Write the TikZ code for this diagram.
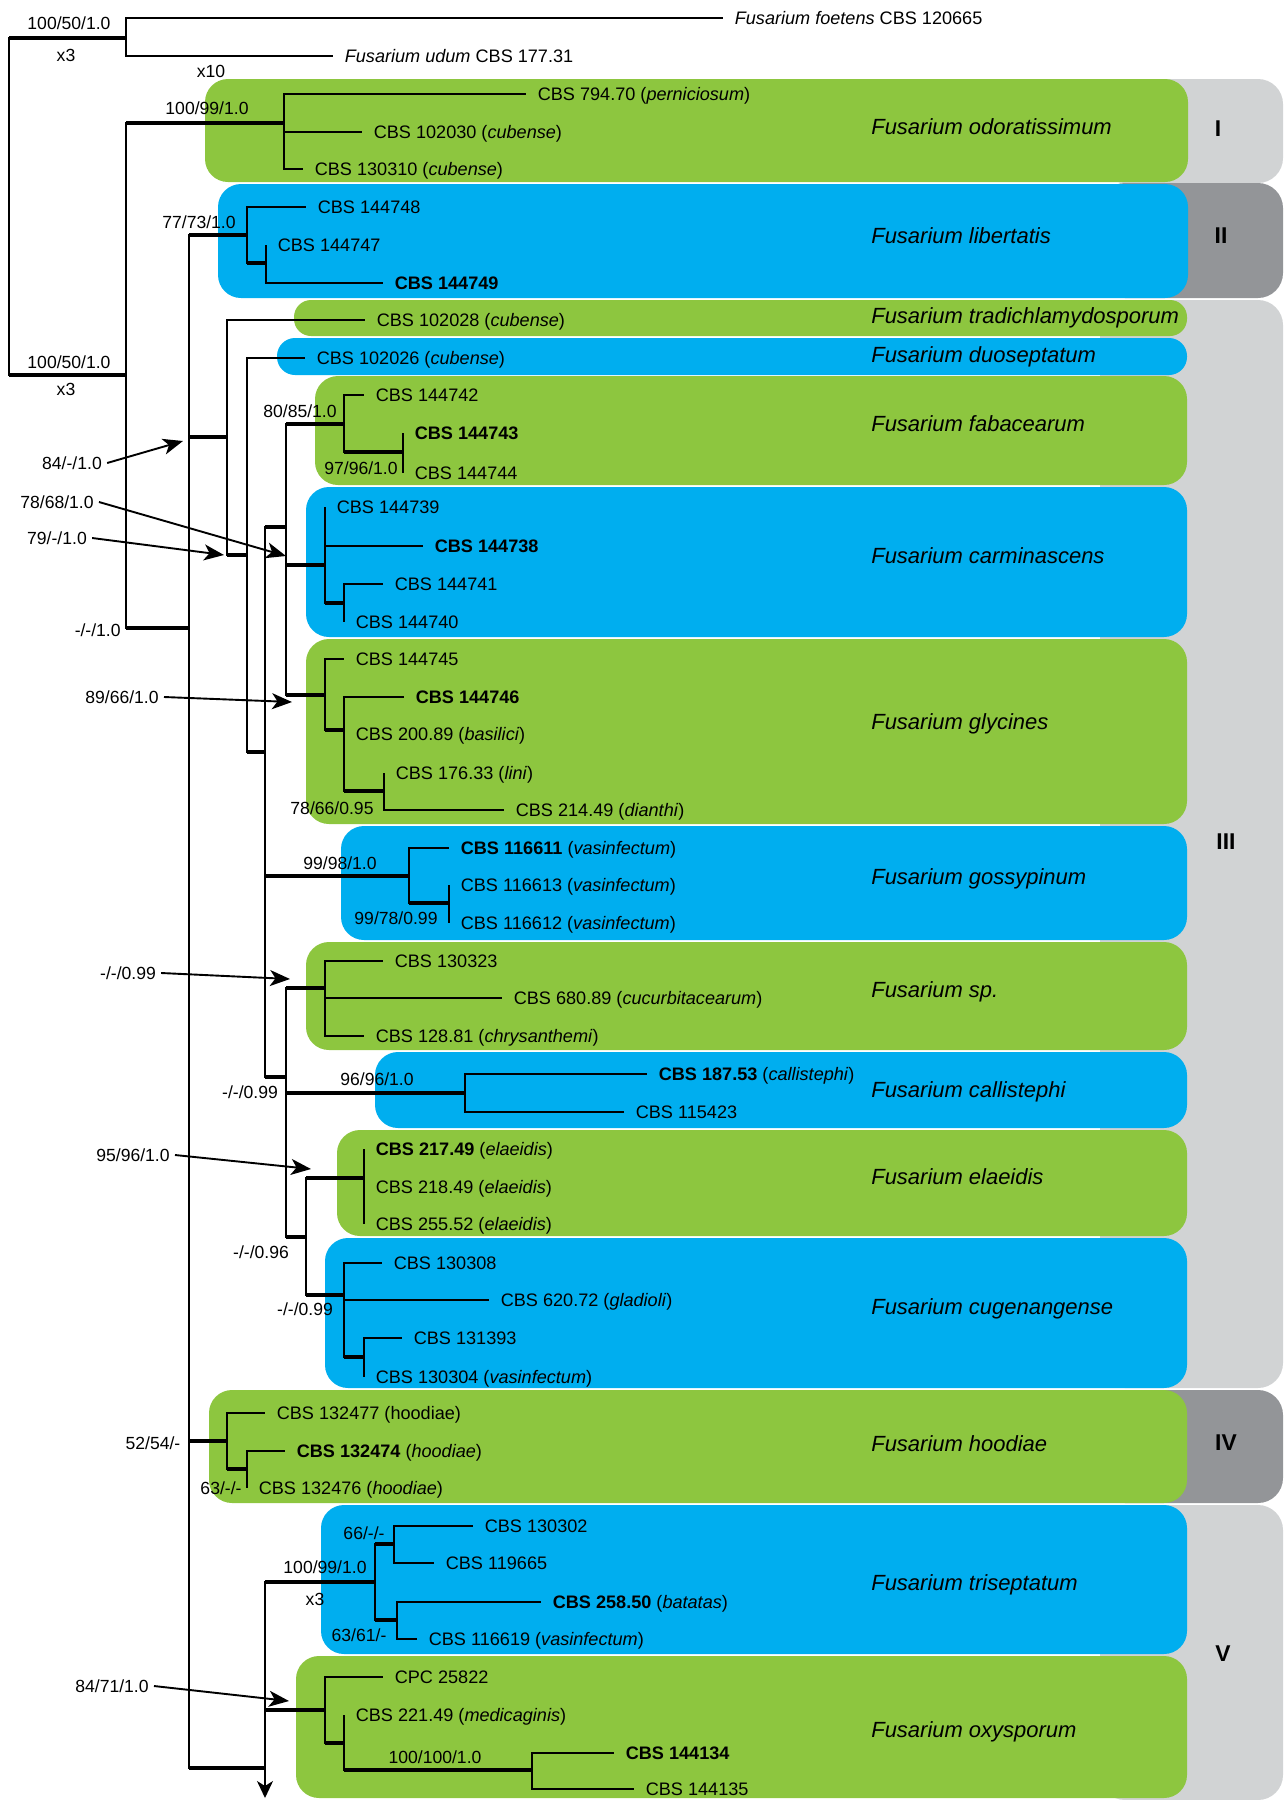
\documentclass[tikz,border=0pt]{standalone}
\usepackage{fontspec}
\setmainfont{Liberation Sans}
\usetikzlibrary{arrows.meta}
\definecolor{fGreen}{HTML}{8DC63F}
\definecolor{fBlue}{HTML}{00AEEF}
\definecolor{fGrey}{HTML}{D1D3D4}
\definecolor{fDark}{HTML}{939598}

\begin{document}
\begin{tikzpicture}[x=0.2mm, y=-0.2mm,
  every node/.style={font=\fontsize{10.3}{12}\selectfont},
  br/.style={line width=0.35mm},
  thk/.style={line width=0.85mm},
  leaf/.style={anchor=west, inner xsep=2.3mm, inner ysep=0pt,
               text height=1.38ex, text depth=0pt},
  supp/.style={font=\fontsize{10}{12}\selectfont, inner sep=0pt,
               text height=1.38ex, text depth=0pt},
  spname/.style={anchor=west, inner sep=0pt, text height=1.38ex, text depth=0pt,
                 font=\fontsize{12.5}{14}\selectfont\itshape},
  grp/.style={font=\fontsize{13}{15}\selectfont\bfseries, text height=1.38ex, text depth=0pt},
  pnt/.style={line width=0.38mm, -{Stealth[length=4mm, width=3.2mm, inset=1.1mm]}},
]
  \useasboundingbox (0,0) rectangle (1285,1800);

  % Group bars
  \fill[fGrey, rounded corners=5mm] (1100,79) rectangle (1283,183);
  \fill[fDark, rounded corners=5mm] (1100,183) rectangle (1283,298);
  \fill[fGrey, rounded corners=5mm] (1100,300) rectangle (1283,1388);
  \fill[fDark, rounded corners=5mm] (1100,1390) rectangle (1283,1503);
  \fill[fGrey, rounded corners=5mm] (1100,1505) rectangle (1283,1800);

  % Species boxes
  \fill[fGreen, rounded corners=4.6mm] (205,79) rectangle (1188,182);
  \fill[fBlue, rounded corners=4.6mm] (218,184) rectangle (1188,298);
  \fill[fGreen, rounded corners=3.4mm] (294,300) rectangle (1187,336);
  \fill[fBlue, rounded corners=3.6mm] (277,338) rectangle (1187,375);
  \fill[fGreen, rounded corners=4.6mm] (315,376) rectangle (1187,485);
  \fill[fBlue, rounded corners=4.6mm] (306,487) rectangle (1187,637);
  \fill[fGreen, rounded corners=4.6mm] (306,639) rectangle (1187,824);
  \fill[fBlue, rounded corners=4.6mm] (341,826) rectangle (1187,940);
  \fill[fGreen, rounded corners=4.6mm] (306,942) rectangle (1187,1050);
  \fill[fBlue, rounded corners=4.6mm] (375,1052) rectangle (1187,1128);
  \fill[fGreen, rounded corners=4.6mm] (337,1130) rectangle (1187,1236);
  \fill[fBlue, rounded corners=4.6mm] (325,1238) rectangle (1187,1388);
  \fill[fGreen, rounded corners=4.6mm] (209,1390) rectangle (1187,1503);
  \fill[fBlue, rounded corners=4.6mm] (321,1505) rectangle (1187,1654);
  \fill[fGreen, rounded corners=4.6mm] (296,1656) rectangle (1187,1798);

  % Internal nodes
  \coordinate (R) at (9,206);
  \coordinate (O) at (126,38);
  \coordinate (N1) at (126,375);
  \coordinate (odo) at (284,123);
  \coordinate (N2) at (189,628);
  \coordinate (lib) at (247,235);
  \coordinate (lib2) at (266,263);
  \coordinate (A) at (227,437);
  \coordinate (B) at (247,555);
  \coordinate (C) at (265,752);
  \coordinate (D) at (286,527);
  \coordinate (fab) at (344,424);
  \coordinate (fab2) at (403,452);
  \coordinate (carm) at (325,565);
  \coordinate (carm2) at (344,603);
  \coordinate (gly) at (325,695);
  \coordinate (gly2) at (344,730);
  \coordinate (gly3) at (384,791);
  \coordinate (goss) at (409,876);
  \coordinate (goss2) at (449,903);
  \coordinate (E) at (286,1077);
  \coordinate (sp) at (325,988);
  \coordinate (call) at (465,1093);
  \coordinate (F) at (306,1237);
  \coordinate (ela) at (364,1178);
  \coordinate (cug) at (344,1295);
  \coordinate (cug2) at (364,1357);
  \coordinate (hood) at (227,1441);
  \coordinate (hood2) at (247,1469);
  \coordinate (V) at (265,1768);
  \coordinate (tri) at (375,1582);
  \coordinate (tri1) at (394,1544);
  \coordinate (tri2) at (397,1620);
  \coordinate (oxy) at (325,1710);
  \coordinate (oxy2) at (344,1743);
  \coordinate (oxy3) at (532,1770);
  \coordinate (cont) at (265,1798);

  % Leaves
  \node[leaf] (foetens) at (723,18) {\textit{Fusarium foetens} CBS 120665};
  \node[leaf] (udum) at (333,56) {\textit{Fusarium udum} CBS 177.31};
  \node[leaf] (a79470) at (526,94) {CBS 794.70 (\textit{perniciosum})};
  \node[leaf] (a102030) at (362,132) {CBS 102030 (\textit{cubense})};
  \node[leaf] (a130310) at (303,169) {CBS 130310 (\textit{cubense})};
  \node[leaf] (a144748) at (306,207) {CBS 144748};
  \node[leaf] (a144747) at (266,245) {CBS 144747};
  \node[leaf] (a144749) at (383,283) {\textbf{CBS 144749}};
  \node[leaf] (a102028) at (365,320) {CBS 102028 (\textit{cubense})};
  \node[leaf] (a102026) at (305,358) {CBS 102026 (\textit{cubense})};
  \node[leaf] (a144742) at (364,395) {CBS 144742};
  \node[leaf] (a144743) at (403,433) {\textbf{CBS 144743}};
  \node[leaf] (a144744) at (403,473) {CBS 144744};
  \node[leaf] (a144739) at (325,507) {CBS 144739};
  \node[leaf] (a144738) at (423,546) {\textbf{CBS 144738}};
  \node[leaf] (a144741) at (383,584) {CBS 144741};
  \node[leaf] (a144740) at (344,622) {CBS 144740};
  \node[leaf] (a144745) at (344,659) {CBS 144745};
  \node[leaf] (a144746) at (404,697) {\textbf{CBS 144746}};
  \node[leaf] (a20089) at (344,734) {CBS 200.89 (\textit{basilici})};
  \node[leaf] (a17633) at (384,773) {CBS 176.33 (\textit{lini})};
  \node[leaf] (a21449) at (504,810) {CBS 214.49 (\textit{dianthi})};
  \node[leaf] (a116611) at (449,848) {\textbf{CBS 116611} (\textit{vasinfectum})};
  \node[leaf] (a116613) at (449,885) {CBS 116613 (\textit{vasinfectum})};
  \node[leaf] (a116612) at (449,923) {CBS 116612 (\textit{vasinfectum})};
  \node[leaf] (a130323) at (383,961) {CBS 130323};
  \node[leaf] (a68089) at (502,998) {CBS 680.89 (\textit{cucurbitacearum})};
  \node[leaf] (a12881) at (364,1036) {CBS 128.81 (\textit{chrysanthemi})};
  \node[leaf] (a18753) at (647,1074) {\textbf{CBS 187.53} (\textit{callistephi})};
  \node[leaf] (a115423) at (624,1112) {CBS 115423};
  \node[leaf] (a21749) at (364,1149) {\textbf{CBS 217.49} (\textit{elaeidis})};
  \node[leaf] (a21849) at (364,1187) {CBS 218.49 (\textit{elaeidis})};
  \node[leaf] (a25552) at (364,1224) {CBS 255.52 (\textit{elaeidis})};
  \node[leaf] (a130308) at (382,1263) {CBS 130308};
  \node[leaf] (a62072) at (489,1300) {CBS 620.72 (\textit{gladioli})};
  \node[leaf] (a131393) at (402,1338) {CBS 131393};
  \node[leaf] (a130304) at (364,1377) {CBS 130304 (\textit{vasinfectum})};
  \node[leaf] (a132477) at (265,1413) {CBS 132477 (hoodiae)};
  \node[leaf] (a132474) at (285,1451) {\textbf{CBS 132474} (\textit{hoodiae})};
  \node[leaf] (a132476) at (247,1488) {CBS 132476 (\textit{hoodiae})};
  \node[leaf] (a130302) at (473,1526) {CBS 130302};
  \node[leaf] (a119665) at (434,1563) {CBS 119665};
  \node[leaf] (a25850) at (541,1602) {\textbf{CBS 258.50} (\textit{batatas})};
  \node[leaf] (a116619) at (417,1639) {CBS 116619 (\textit{vasinfectum})};
  \node[leaf] (c25822) at (383,1677) {CPC 25822};
  \node[leaf] (a22149) at (344,1715) {CBS 221.49 (\textit{medicaginis})};
  \node[leaf] (a144134) at (614,1753) {\textbf{CBS 144134}};
  \node[leaf] (a144135) at (634,1789) {CBS 144135};

  % Branches to clades
  \foreach \p/\c in {R/O, R/N1, N1/odo, N1/N2, N2/lib, lib/lib2, N2/A, A/B, B/C,
      C/D, D/fab, fab/fab2, D/carm, carm/carm2, D/gly, gly/gly2, gly2/gly3,
      C/goss, goss/goss2, C/E, E/sp, E/call, E/F, F/ela, F/cug, cug/cug2,
      N2/hood, hood/hood2, N2/V, V/tri, tri/tri1, tri/tri2, V/oxy, oxy/oxy2,
      oxy2/oxy3} {
    \draw[br] (\p) |- (\c);
    \draw[thk] (\p |- \c) -- (\c);
  }

  % Branches to strains
  \foreach \p/\c in {O/foetens, O/udum, odo/a79470, odo/a102030, odo/a130310,
      lib/a144748, lib2/a144747, lib2/a144749, A/a102028, B/a102026,
      fab/a144742, fab2/a144743, fab2/a144744, carm/a144739, carm/a144738,
      carm2/a144741, carm2/a144740, gly/a144745, gly2/a144746, gly2/a20089,
      gly3/a17633, gly3/a21449, goss/a116611, goss2/a116613, goss2/a116612,
      sp/a130323, sp/a68089, sp/a12881, call/a18753, call/a115423,
      ela/a21749, ela/a21849, ela/a25552, cug/a130308, cug/a62072,
      cug2/a131393, cug2/a130304, hood/a132477, hood2/a132474, hood2/a132476,
      tri1/a130302, tri1/a119665, tri2/a25850, tri2/a116619, oxy/c25822,
      oxy2/a22149, oxy3/a144134, oxy3/a144135} {
    \draw[br] (\p) |- (\c.west);
  }

  % Rest of the tree
  \draw[br, -{Stealth[length=3.4mm, width=3.2mm, inset=1mm]}] (V) -- (cont);

  % Support values
  \node[supp] (s1) at (69,23) {100/50/1.0};
  \node[supp] (s1x) at (66,55) {x3};
  \node[supp] (s2x) at (211,71) {x10};
  \node[supp] (s2) at (207,108) {100/99/1.0};
  \node[supp] (s3) at (199,222) {77/73/1.0};
  \node[supp] (s4) at (69,362) {100/50/1.0};
  \node[supp] (s4x) at (66,389) {x3};
  \node[supp, anchor=east] (s5) at (121,630) {-/-/1.0};
  \node[supp] (s6) at (300,411) {80/85/1.0};
  \node[supp] (s7) at (361,468) {97/96/1.0};
  \node[supp] (s8) at (332,808) {78/66/0.95};
  \node[supp] (s9) at (340,863) {99/98/1.0};
  \node[supp] (s10) at (396,918) {99/78/0.99};
  \node[supp] (s11) at (377,1079) {96/96/1.0};
  \node[supp] (s12) at (250,1092) {-/-/0.99};
  \node[supp] (s13) at (261,1252) {-/-/0.96};
  \node[supp] (s14) at (305,1309) {-/-/0.99};
  \node[supp] (s15) at (153,1443) {52/54/-};
  \node[supp] (s16) at (221,1488) {63/-/-};
  \node[supp] (s17) at (364,1533) {66/-/-};
  \node[supp] (s18) at (325,1567) {100/99/1.0};
  \node[supp] (s18x) at (315,1599) {x3};
  \node[supp] (s19) at (359,1635) {63/61/-};
  \node[supp] (s20) at (435,1757) {100/100/1.0};

  % Support values with pointers
  \node[supp] (p1) at (72,463) {84/-/1.0};
  \node[supp] (p2) at (57,502) {78/68/1.0};
  \node[supp] (p3) at (57,538) {79/-/1.0};
  \node[supp] (p4) at (122,697) {89/66/1.0};
  \node[supp] (p5) at (128,973) {-/-/0.99};
  \node[supp] (p6) at (133,1155) {95/96/1.0};
  \node[supp] (p7) at (112,1686) {84/71/1.0};
  \coordinate (t1) at (183,441);
  \coordinate (t2) at (286,556);
  \coordinate (t3) at (224,555);
  \coordinate (t4) at (292,702);
  \coordinate (t5) at (290,979);
  \coordinate (t6) at (311,1169);
  \coordinate (t7) at (289,1701);
  \foreach \i in {1,...,7}
    \draw[pnt] ([xshift=1mm]p\i.east) -- (t\i);

  % Species
  \node[spname] (n1) at (871,128) {Fusarium odoratissimum};
  \node[spname] (n2) at (871,237) {Fusarium libertatis};
  \node[spname] (n3) at (871,317) {Fusarium tradichlamydosporum};
  \node[spname] (n4) at (871,356) {Fusarium duoseptatum};
  \node[spname] (n5) at (871,425) {Fusarium fabacearum};
  \node[spname] (n6) at (871,557) {Fusarium carminascens};
  \node[spname] (n7) at (871,723) {Fusarium glycines};
  \node[spname] (n8) at (871,878) {Fusarium gossypinum};
  \node[spname] (n9) at (871,991) {Fusarium sp.};
  \node[spname] (n10) at (871,1091) {Fusarium callistephi};
  \node[spname] (n11) at (871,1178) {Fusarium elaeidis};
  \node[spname] (n12) at (871,1308) {Fusarium cugenangense};
  \node[spname] (n13) at (871,1445) {Fusarium hoodiae};
  \node[spname] (n14) at (871,1584) {Fusarium triseptatum};
  \node[spname] (n15) at (871,1731) {Fusarium oxysporum};

  % Groups
  \node[grp] (g1) at (1218,130) {I};
  \node[grp] (g2) at (1221,237) {II};
  \node[grp] (g3) at (1226,843) {III};
  \node[grp] (g4) at (1226,1444) {IV};
  \node[grp] (g5) at (1223,1655) {V};
\end{tikzpicture}
\end{document}
